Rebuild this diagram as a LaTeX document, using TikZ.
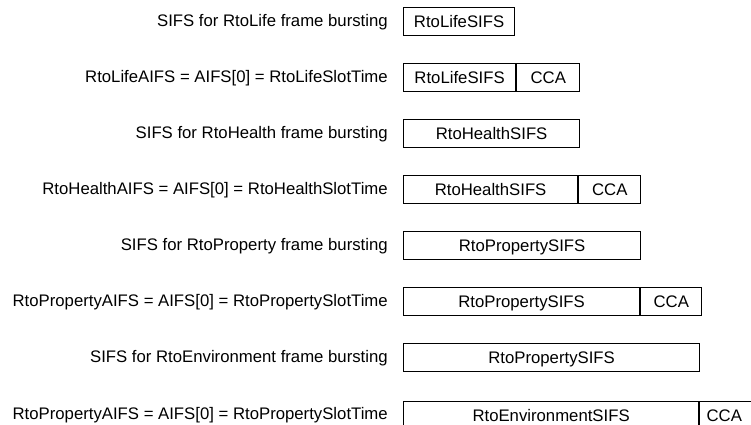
\documentclass[tikz,border=0pt]{standalone}
\usepackage{fontspec}
\setmainfont{Liberation Sans}
\begin{document}
\begin{tikzpicture}[x=0.75pt,y=-0.75pt,
  every node/.style={font=\fontsize{12.55}{14}\selectfont},
  lbl/.style={anchor=base east,inner sep=0pt},
  cell/.style={draw,line width=0.9pt,inner sep=0pt,anchor=north west,
    minimum height=21pt,text height=8.9pt,text depth=0pt},
  cca/.style={cell,minimum width={62*0.75pt}}]
\useasboundingbox (0,0) rectangle (751,425);
\clip (0,0) rectangle (751,425);

% RtoLife
\node[lbl] (l1) at (388,26.5) {SIFS for RtoLife frame bursting};
\node[cell,minimum width={111*0.75pt}] (s1) at (403,7) {RtoLifeSIFS};
\node[lbl] (l2) at (388,82.5) {RtoLifeAIFS = AIFS[0] = RtoLifeSlotTime};
\node[cell,minimum width={112*0.75pt}] (s2) at (403,63) {RtoLifeSIFS};
\node[cca,minimum width={63*0.75pt}] (c2) at (s2.north east) {CCA};

% RtoHealth
\node[lbl] (l3) at (388,138.5) {SIFS for RtoHealth frame bursting};
\node[cell,minimum width={176*0.75pt}] (s3) at (403,119) {RtoHealthSIFS};
\node[lbl] (l4) at (388,194.5) {RtoHealthAIFS = AIFS[0] = RtoHealthSlotTime};
\node[cell,minimum width={174*0.75pt}] (s4) at (403,175) {RtoHealthSIFS};
\node[cca] (c4) at (s4.north east) {CCA};

% RtoProperty
\node[lbl] (l5) at (388,250.5) {SIFS for RtoProperty frame bursting};
\node[cell,minimum width={237*0.75pt}] (s5) at (403,231) {RtoPropertySIFS};
\node[lbl] (l6) at (388,306.5) {RtoPropertyAIFS = AIFS[0] = RtoPropertySlotTime};
\node[cell,minimum width={236*0.75pt}] (s6) at (403,287) {RtoPropertySIFS};
\node[cca,minimum width={61*0.75pt}] (c6) at (s6.north east) {CCA};

% RtoEnvironment
\node[lbl] (l7) at (388,362.5) {SIFS for RtoEnvironment frame bursting};
\node[cell,minimum width={296*0.75pt}] (s7) at (403,343) {RtoPropertySIFS};
\node[lbl] (l8) at (388,419) {RtoPropertyAIFS = AIFS[0] = RtoPropertySlotTime};
\node[cell,minimum width={295*0.75pt}] (s8) at (403,401) {RtoEnvironmentSIFS};
% the last CCA cell runs past the right edge; its label sits left of centre
\node[cca] (c8) at (s8.north east) {CCA\hspace*{9.75pt}};
\end{tikzpicture}
\end{document}
